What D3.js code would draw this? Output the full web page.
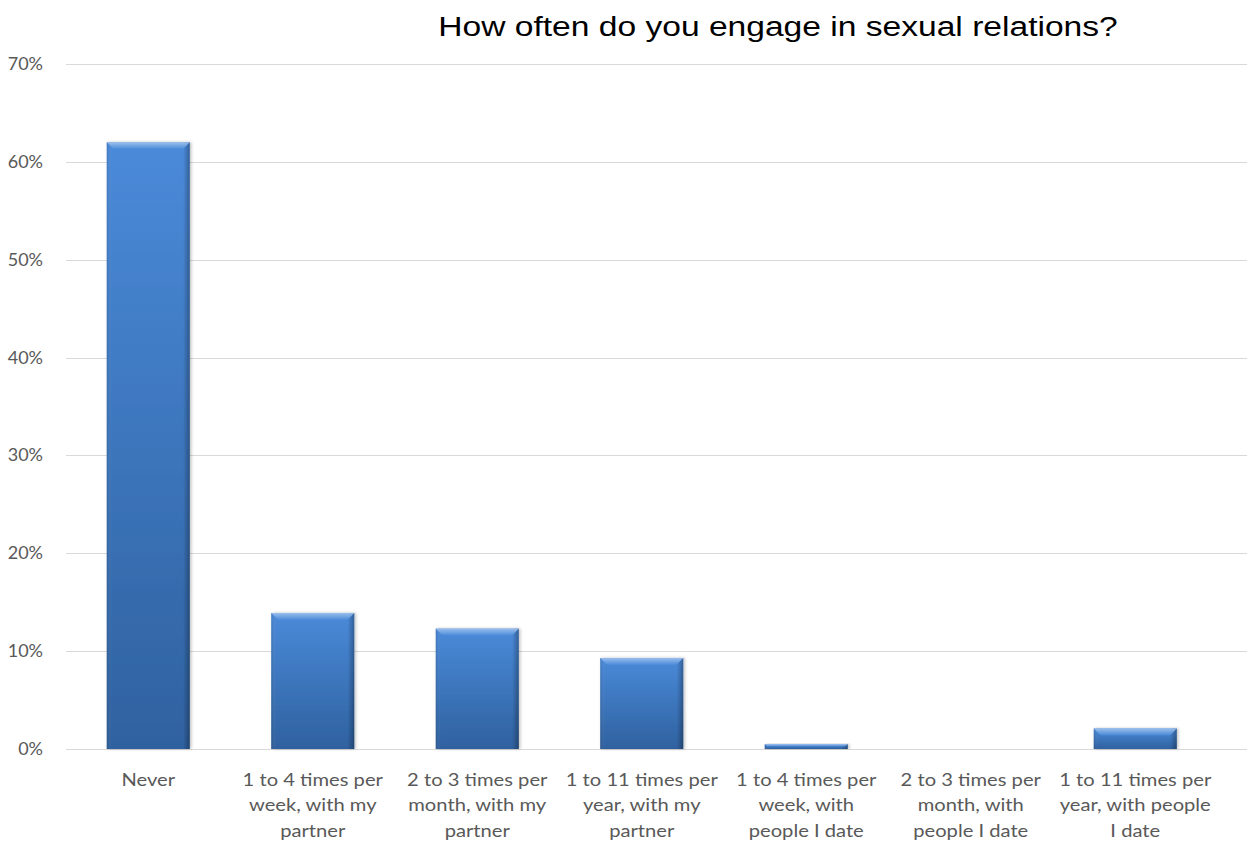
<!DOCTYPE html>
<html>
<head>
<meta charset="utf-8">
<script src="https://cdn.jsdelivr.net/npm/d3@7"></script>
<style>
  body { margin: 0; background: #fff; }
  svg { display: block; }
</style>
</head>
<body>
<svg id="chart" width="1247" height="848"></svg>
<script>
const title = "How often do you engage in sexual relations?";
const categories = [
  ["Never"],
  ["1 to 4 times per", "week, with my", "partner"],
  ["2 to 3 times per", "month, with my", "partner"],
  ["1 to 11 times per", "year, with my", "partner"],
  ["1 to 4 times per", "week, with", "people I date"],
  ["2 to 3 times per", "month, with", "people I date"],
  ["1 to 11 times per", "year, with people", "I date"]
];
const values = [0.62, 0.139, 0.123, 0.093, 0.005, 0, 0.021];
const yTicks = [0, 0.1, 0.2, 0.3, 0.4, 0.5, 0.6, 0.7];

(function () {
const svg = d3.select("#chart");
const W = 1247;
const mLeft = 66, mRight = 1217.5, mTop = 64, mBottom = 749;

const x = d3.scaleBand().domain(d3.range(categories.length)).range([mLeft, mRight]).paddingInner(0.495).paddingOuter(0.2475);
const y = d3.scaleLinear().domain([0, 0.7]).range([mBottom, mTop]);

const defs = svg.append("defs");
const gv = defs.append("linearGradient").attr("id", "gv").attr("x1", 0).attr("y1", 0).attr("x2", 0).attr("y2", 1);
gv.append("stop").attr("offset", "0%").attr("stop-color", "#4a8ad9");
gv.append("stop").attr("offset", "100%").attr("stop-color", "#2f619f");
const gh = defs.append("linearGradient").attr("id", "gh").attr("x1", 0).attr("y1", 0).attr("x2", 1).attr("y2", 0);
gh.append("stop").attr("offset", "0%").attr("stop-color", "#000").attr("stop-opacity", 0.12);
gh.append("stop").attr("offset", "6%").attr("stop-color", "#fff").attr("stop-opacity", 0.0);
gh.append("stop").attr("offset", "92%").attr("stop-color", "#000").attr("stop-opacity", 0.0);
gh.append("stop").attr("offset", "100%").attr("stop-color", "#000").attr("stop-opacity", 0.3);
const gt = defs.append("linearGradient").attr("id", "gt").attr("x1", 0).attr("y1", 0).attr("x2", 0).attr("y2", 1);
gt.append("stop").attr("offset", "0%").attr("stop-color", "#a9c8f0");
gt.append("stop").attr("offset", "100%").attr("stop-color", "#4a8ad9");
const sh = defs.append("filter").attr("id", "sh").attr("x", "-10%").attr("y", "-10%").attr("width", "130%").attr("height", "130%");
sh.append("feDropShadow").attr("dx", 1.5).attr("dy", 0).attr("stdDeviation", 1.5).attr("flood-color", "#000").attr("flood-opacity", 0.25);

// gridlines
svg.append("g").selectAll("line").data(yTicks).join("line")
  .attr("x1", mLeft).attr("x2", W)
  .attr("y1", d => Math.round(y(d)) + 0.5).attr("y2", d => Math.round(y(d)) + 0.5)
  .attr("stroke", "#d9d9d9").attr("stroke-width", 1);

// y tick labels
svg.append("g").selectAll("text").data(yTicks).join("text")
  .attr("x", 43).attr("y", d => y(d) + 6)
  .attr("text-anchor", "end")
  .attr("font-family", "Lato, 'Open Sans', sans-serif")
  .attr("font-size", 18).attr("fill", "#595959")
  .text(d => d3.format(".0%")(d));

// bars
const barData = values.map((v, i) => ({ v, i })).filter(d => d.v > 0);
const bars = svg.append("g").selectAll("g").data(barData).join("g");
bars.append("rect")
  .attr("x", d => x(d.i))
  .attr("y", d => y(d.v)).attr("width", x.bandwidth()).attr("height", d => mBottom - y(d.v))
  .attr("fill", "url(#gv)").attr("filter", "url(#sh)");
bars.append("rect")
  .attr("x", d => x(d.i))
  .attr("y", d => y(d.v)).attr("width", x.bandwidth()).attr("height", d => mBottom - y(d.v))
  .attr("fill", "url(#gh)");
bars.append("path")
  .attr("d", d => {
    const x0 = x(d.i), x1 = x0 + x.bandwidth(), y0 = y(d.v);
    const h = Math.min(7, (mBottom - y0) / 2);
    return `M${x0},${y0}L${x1},${y0}L${x1 - h},${y0 + h}L${x0 + h},${y0 + h}Z`;
  })
  .attr("fill", "url(#gt)").attr("opacity", 0.85);

// category labels
const lab = svg.append("g").selectAll("text").data(categories).join("text")
  .attr("text-anchor", "middle")
  .attr("font-family", "Lato, 'Open Sans', sans-serif")
  .attr("font-size", 18).attr("fill", "#595959")
  .attr("transform", (d, i) => `translate(${x(i) + x.bandwidth() / 2},${786}) scale(1.12,1)`);
lab.selectAll("tspan").data(d => d).join("tspan")
  .attr("x", 0).attr("dy", (d, i) => i === 0 ? 0 : 25.5)
  .text(d => d);

// title
svg.append("text")
  .attr("transform", "translate(778,36) scale(1.2,1)")
  .attr("text-anchor", "middle")
  .attr("font-family", "'Liberation Sans', Arial, sans-serif")
  .attr("font-size", 28).attr("fill", "#000")
  .text(title);
})();
</script>
</body>
</html>
